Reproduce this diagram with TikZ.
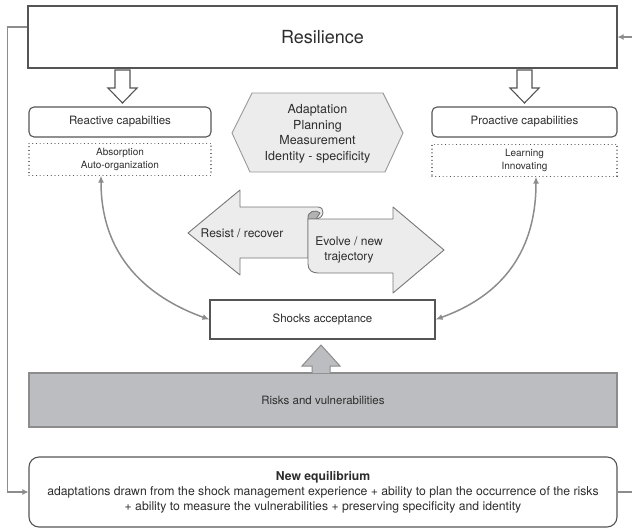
\documentclass[tikz,border=0pt]{standalone}
\usepackage{fontspec}
\setmainfont{TeX Gyre Heros}
\usetikzlibrary{arrows.meta, positioning}

\definecolor{boxline}{RGB}{85,85,85}
\definecolor{linkgray}{RGB}{140,140,140}
\definecolor{riskfill}{RGB}{188,189,192}
\definecolor{scrollfill}{RGB}{236,236,236}
\definecolor{txt}{RGB}{45,45,45}

\begin{document}
\begin{tikzpicture}[x=1pt, y=-1pt, node distance=5pt,
	box/.style={draw=boxline, line width=1.1pt, fill=white, inner sep=0pt, text=txt},
	capbox/.style={box, rounded corners=5pt, minimum height=30pt, font=\fontsize{11.5}{13}\selectfont},
	subbox/.style={draw=boxline, line width=1.1pt, dash pattern=on 0.1pt off 3.6pt, line cap=round,
		inner sep=0pt, minimum height=32pt, align=center, text=txt, font=\fontsize{10}{13}\selectfont},
	link/.style={draw=linkgray, line width=1.5pt, {Latex[length=7pt,width=6pt]}-{Latex[length=7pt,width=6pt]}},
	feedback/.style={draw=linkgray, line width=1.6pt, -{Latex[length=6pt,width=6pt]}},
	hollow/.style={draw=boxline, line width=1.1pt, fill=white, line join=miter},
	scroll/.style={draw=boxline!80, line width=0.9pt, fill=scrollfill, line join=round},
	label/.style={text=txt, align=center, inner sep=0pt, font=\fontsize{12}{15}\selectfont}]

	\useasboundingbox (0,0) rectangle (632,528);

	% Top box
	\node[box, minimum width=589pt, minimum height=62pt, font=\fontsize{18}{20}\selectfont] (resil) at (322.5,37) {Resilience};

	% Capabilities
	\node[capbox, minimum width=182pt] (react) at (120,122) {Reactive capabilties};
	\node[subbox, minimum width=182pt, below=of react] (reactsub) {Absorption\\Auto-organization};
	\node[capbox, minimum width=185pt] (proact) at (524.5,122) {Proactive capabilities};
	\node[subbox, minimum width=185pt, below=6pt of proact] (proactsub) {Learning\\Innovating};

	% Hollow arrows
	\draw[hollow] (115,70) -- (130,70) -- (130,88) -- (137,88) -- (122.5,103) -- (108,88) -- (115,88) -- cycle;
	\draw[hollow] (517,70) -- (532,70) -- (532,88) -- (539,88) -- (524.5,103) -- (510,88) -- (517,88) -- cycle;

	% Hexagon
	\draw[draw=boxline!60, line width=0.9pt, fill=scrollfill] (252,93) -- (383,93) -- (403,133) -- (385,172) -- (250,172) -- (232,133) -- cycle;
	\node[label, font=\fontsize{12.5}{15.5}\selectfont] (levers) at (317.5,134) {Adaptation\\Planning\\Measurement\\Identity - specificity};

	% Scroll arrows
	\draw[scroll] (188,233) -- (240,190) -- (240,207) -- (318,207)
		.. controls (325,207) and (325,218) .. (316,219) -- (308,219) -- (308,258) -- (240,258) -- (240,275) -- cycle;
	\draw[scroll, fill=boxline!45] (308,219) .. controls (307,211) and (316,209) .. (320,213) -- (316,219) -- cycle;
	\draw[scroll] (308,219) -- (393,219) -- (393,207) -- (444,250) -- (393,293) -- (393,273) -- (318,273)
		.. controls (312,273) and (308,270) .. (308,264) -- cycle;
	\node[label] (resist) at (242,233) {Resist / recover};
	\node[label] (evolve) at (349,250) {Evolve / new\\trajectory};

	% Middle and bottom boxes
	\node[box, minimum width=225pt, minimum height=39pt, font=\fontsize{11.5}{13}\selectfont] (shocks) at (322.5,319.5) {Shocks acceptance};
	\node[box, draw=linkgray, fill=riskfill, minimum width=588pt, minimum height=54pt, font=\fontsize{11.5}{13}\selectfont] (risks) at (323,400) {Risks and vulnerabilities};
	\node[box, rounded corners=10pt, minimum width=588pt, minimum height=70pt, align=center, font=\fontsize{12.2}{15}\selectfont] (neweq) at (323,492)
		{{\bfseries New equilibrium}\\adaptations drawn from the shock management experience + ability to plan the occurrence of the risks\\+ ability to measure the vulnerabilities + preserving specificity and identity};

	% Gray arrow
	\draw[draw=linkgray, line width=1pt, fill=riskfill] (312,373) -- (312,366) -- (302,366) -- (321,345) -- (340,366) -- (330,366) -- (330,373);

	% Links
	\draw[link] ([xshift=-19pt]reactsub.south) .. controls +(0,90) and +(-50,-18) .. (shocks.west);
	\draw[link] ([xshift=11.5pt]proactsub.south) .. controls +(0,90) and +(50,-18) .. (shocks.east);
	\draw[feedback] ([yshift=10pt]resil.west) -| ([xshift=-21pt]neweq.west) -- (neweq.west);
	\draw[feedback] (neweq.east) -| ([xshift=19pt]resil.east) -- (resil.east);

\end{tikzpicture}
\end{document}
